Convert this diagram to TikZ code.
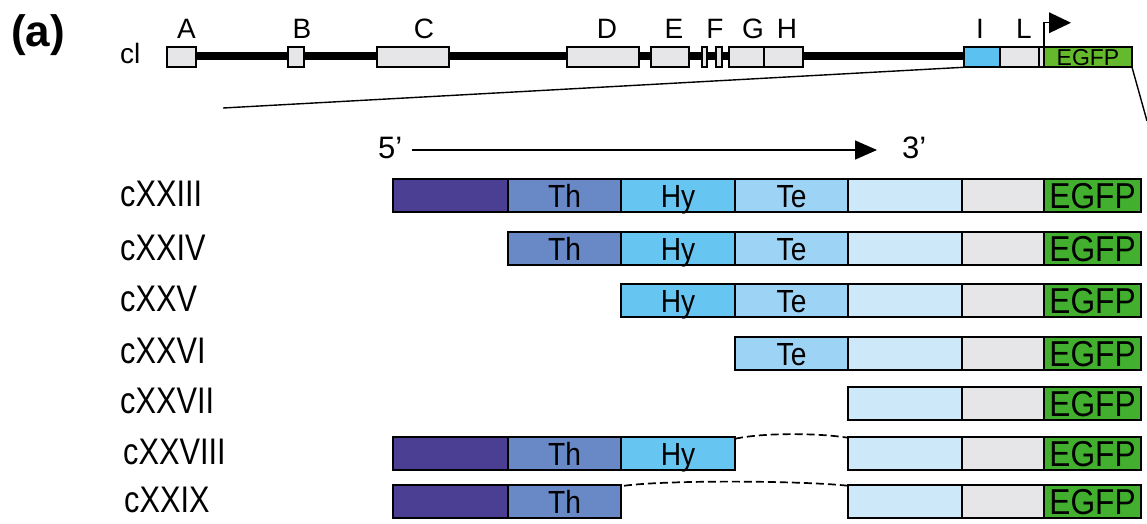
\documentclass[tikz,border=0pt]{standalone}
\usepackage{fontspec}
\setmainfont{Liberation Sans}
\newfontfamily\narrowsf{Liberation Sans}[FakeStretch=0.83]
\newfontfamily\boxsf{Liberation Sans}[FakeStretch=0.88]
\usetikzlibrary{arrows.meta,backgrounds}

\definecolor{cpurple}{HTML}{4B3F94}
\definecolor{cth}{HTML}{6889C6}
\definecolor{chy}{HTML}{66C5F1}
\definecolor{cte}{HTML}{9DD4F6}
\definecolor{clight}{HTML}{CDE8F9}
\definecolor{cgrey}{HTML}{E6E5E7}
\definecolor{cgfp}{HTML}{42B02E}
\definecolor{cgfptop}{HTML}{64BA2C}
\definecolor{cblue}{HTML}{5BC1F0}

% one coloured segment of a construct: name, fill, x1, x2, y, extra style, text
\newcommand\seg[7]{%
  \node[segbox, fill=#2, minimum width={(#4)-(#3)}, #6] (#1) at ({((#3)+(#4))/2}, #5) {#7};}
% one exon box of the cl locus: name, fill, x1, x2
\newcommand\exon[4]{%
  \node[exonbox, fill=#2, minimum width={(#4)-(#3)}] (#1) at ({((#3)+(#4))/2}, 57) {};}

\begin{document}
\begin{tikzpicture}[x=1pt, y=-1pt,
  segbox/.style={draw=black, line width=1.8pt, minimum height=33.5pt, inner sep=0pt, outer sep=0pt},
  segtxt/.style={font=\boxsf\fontsize{32}{32}\selectfont, text height=23pt, text depth=0pt},
  gfptxt/.style={font=\boxsf\fontsize{36}{36}\selectfont, text height=26pt, text depth=0pt},
  exonbox/.style={draw=black, line width=1.6pt, minimum height=20.5pt, inner sep=0pt, outer sep=0pt},
  exonlab/.style={anchor=base, inner sep=0pt, font=\fontsize{28}{28}\selectfont},
  rowlab/.style={anchor=west, inner sep=0pt, font=\narrowsf\fontsize{37}{37}\selectfont, text height=26.5pt, text depth=0pt},
  gap/.style={line width=1.7pt, dash pattern=on 8pt off 4pt},
  thin/.style={line width=1.4pt}]
\useasboundingbox (0,0) rectangle (1147,523);

% panel letter
\node[anchor=base west, inner sep=0pt, font=\bfseries\fontsize{44}{44}\selectfont] (panel) at (11,46.5) {(a)};

% ---- cl locus ----
\node[anchor=base west, inner sep=0pt, font=\fontsize{28}{28}\selectfont] (cl) at (120,63) {cl};
\exon{A}{cgrey}{167}{196}
\exon{B}{cgrey}{288}{304}
\exon{C}{cgrey}{377}{449}
\exon{D}{cgrey}{567}{639}
\exon{E}{cgrey}{651}{689}
\exon{F1}{cgrey}{702}{707}
\exon{F2}{cgrey}{716}{722}
\exon{G}{cgrey}{729}{764}
\exon{H}{cgrey}{764}{803}
\exon{I}{cblue}{964}{1000}
\exon{L}{cgrey}{1000}{1039}
\exon{S}{cgrey}{1039}{1044}
\node[exonbox, fill=cgfptop, minimum width=88pt, font=\fontsize{23}{23}\selectfont, text height=16.5pt, text depth=0pt] (gfp0) at (1088,57) {EGFP};

\begin{pgfonlayer}{background}
  \draw[line width=8pt] ([yshift=1pt]A.east) -- ([yshift=1pt]I.west);
\end{pgfonlayer}

\node[exonlab] at (186.5,38) {A};
\node[exonlab] at (302,38) {B};
\node[exonlab] at (424,38) {C};
\node[exonlab] at (607,38) {D};
\node[exonlab] at (674,38) {E};
\node[exonlab] at (715,38) {F};
\node[exonlab] at (753,38) {G};
\node[exonlab] at (787,38) {H};
\node[exonlab] at (980,38) {I};
\node[exonlab] at (1024,38) {L};

% promoter flag
\draw[thin] (gfp0.north west) -- ++(0,-24) -- ++(5,0);
\fill ([xshift=5pt,yshift=24pt]gfp0.north west) ++(0,-10.5) -- ++(0,21) -- ++(22,-10.5) -- cycle;

% zoom lines
\coordinate (zl) at (223,108);
\coordinate (zr) at (1147,121);
\draw[thin] (zl) -- (I.south west);
\draw[thin] (gfp0.south east) -- (zr);

% 5' -> 3' orientation
\node[anchor=base west, inner sep=0pt, font=\fontsize{31}{31}\selectfont] (five) at (378,158) {5’};
\node[anchor=base west, inner sep=0pt, font=\fontsize{31}{31}\selectfont] (three) at (902,158) {3’};
\coordinate (a0) at (412,150);
\coordinate (a1) at (877,150);
\draw[thin, -{Triangle[length=22pt,width=19pt]}] (a0) -- (a1);

% ---- constructs ----
% cXXIII
\node[rowlab] (l1) at (120,193.5) {cXXIII};
\seg{r1p}{cpurple}{393}{508}{195.5}{}{}
\seg{r1th}{cth}{508}{621}{195.5}{segtxt}{Th}
\seg{r1hy}{chy}{621}{735}{195.5}{segtxt}{Hy}
\seg{r1te}{cte}{735}{848}{195.5}{segtxt}{Te}
\seg{r1lt}{clight}{848}{962}{195.5}{}{}
\seg{r1gr}{cgrey}{962}{1044}{195.5}{}{}
\seg{r1g}{cgfp}{1044}{1141}{195.5}{gfptxt}{EGFP}
% cXXIV
\node[rowlab] (l2) at (120,247) {cXXIV};
\seg{r2th}{cth}{508}{621}{248.5}{segtxt}{Th}
\seg{r2hy}{chy}{621}{735}{248.5}{segtxt}{Hy}
\seg{r2te}{cte}{735}{848}{248.5}{segtxt}{Te}
\seg{r2lt}{clight}{848}{962}{248.5}{}{}
\seg{r2gr}{cgrey}{962}{1044}{248.5}{}{}
\seg{r2g}{cgfp}{1044}{1141}{248.5}{gfptxt}{EGFP}
% cXXV
\node[rowlab] (l3) at (120,298.5) {cXXV};
\seg{r3hy}{chy}{621}{735}{300.5}{segtxt}{Hy}
\seg{r3te}{cte}{735}{848}{300.5}{segtxt}{Te}
\seg{r3lt}{clight}{848}{962}{300.5}{}{}
\seg{r3gr}{cgrey}{962}{1044}{300.5}{}{}
\seg{r3g}{cgfp}{1044}{1141}{300.5}{gfptxt}{EGFP}
% cXXVI
\node[rowlab] (l4) at (120,350.5) {cXXVI};
\seg{r4te}{cte}{735}{848}{353.5}{segtxt}{Te}
\seg{r4lt}{clight}{848}{962}{353.5}{}{}
\seg{r4gr}{cgrey}{962}{1044}{353.5}{}{}
\seg{r4g}{cgfp}{1044}{1141}{353.5}{gfptxt}{EGFP}
% cXXVII
\node[rowlab] (l5) at (120,400.5) {cXXVII};
\seg{r5lt}{clight}{848}{962}{403.5}{}{}
\seg{r5gr}{cgrey}{962}{1044}{403.5}{}{}
\seg{r5g}{cgfp}{1044}{1141}{403.5}{gfptxt}{EGFP}
% cXXVIII
\node[rowlab] (l6) at (123,451) {cXXVIII};
\seg{r6p}{cpurple}{393}{508}{453.5}{}{}
\seg{r6th}{cth}{508}{621}{453.5}{segtxt}{Th}
\seg{r6hy}{chy}{621}{735}{453.5}{segtxt}{Hy}
\seg{r6lt}{clight}{848}{962}{453.5}{}{}
\seg{r6gr}{cgrey}{962}{1044}{453.5}{}{}
\seg{r6g}{cgfp}{1044}{1141}{453.5}{gfptxt}{EGFP}
\draw[gap] ([yshift=-2pt]r6hy.north east) .. controls +(28,-6) and +(-32,-5) .. ([yshift=-1pt]r6lt.north west);
% cXXIX
\node[rowlab] (l7) at (124,499) {cXXIX};
\seg{r7p}{cpurple}{393}{508}{501.5}{}{}
\seg{r7th}{cth}{508}{621}{501.5}{segtxt}{Th}
\seg{r7lt}{clight}{848}{962}{501.5}{}{}
\seg{r7gr}{cgrey}{962}{1044}{501.5}{}{}
\seg{r7g}{cgfp}{1044}{1141}{501.5}{gfptxt}{EGFP}
\draw[gap] ([xshift=3pt,yshift=-1pt]r7th.north east) .. controls +(45,-6) and +(-45,-5) .. ([yshift=-1pt]r7lt.north west);
\end{tikzpicture}
\end{document}
